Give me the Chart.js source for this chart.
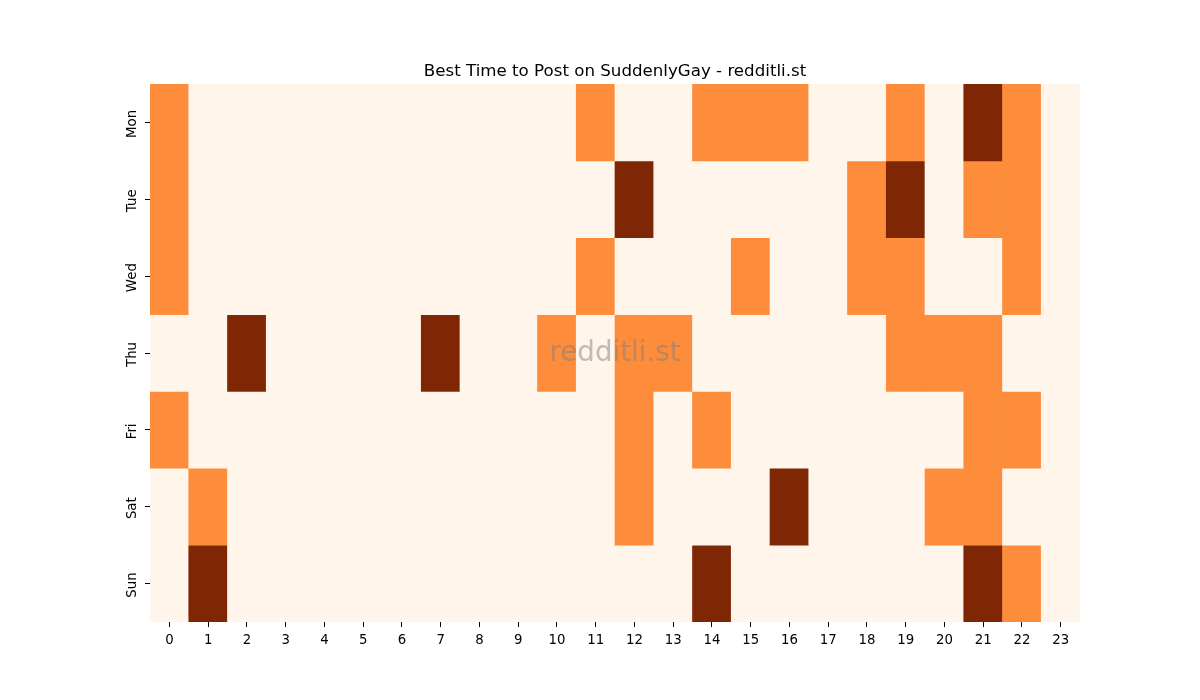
<!DOCTYPE html>
<html>
<head>
<meta charset="utf-8">
<script src="https://cdn.jsdelivr.net/npm/chart.js@4/dist/chart.umd.min.js"></script>
<style>
html,body{margin:0;padding:0;background:#fff;}
#wrap{width:1200px;height:700px;}
</style>
</head>
<body>
<div id="wrap"><canvas id="c" width="1200" height="700"></canvas></div>
<script>
const chartTitle = 'Best Time to Post on SuddenlyGay - redditli.st';
const hours = ['0','1','2','3','4','5','6','7','8','9','10','11','12','13','14','15','16','17','18','19','20','21','22','23'];
const days = ['Mon','Tue','Wed','Thu','Fri','Sat','Sun'];
// activity level per hour (0 = low, 1 = mid, 2 = high)
const mon = [1,0,0,0,0,0,0,0,0,0,0,1,0,0,1,1,1,0,0,1,0,2,1,0];
const tue = [1,0,0,0,0,0,0,0,0,0,0,0,2,0,0,0,0,0,1,2,0,1,1,0];
const wed = [1,0,0,0,0,0,0,0,0,0,0,1,0,0,0,1,0,0,1,1,0,0,1,0];
const thu = [0,0,2,0,0,0,0,2,0,0,1,0,1,1,0,0,0,0,0,1,1,1,0,0];
const fri = [1,0,0,0,0,0,0,0,0,0,0,0,1,0,1,0,0,0,0,0,0,1,1,0];
const sat = [0,1,0,0,0,0,0,0,0,0,0,0,1,0,0,0,2,0,0,0,1,1,0,0];
const sun = [0,2,0,0,0,0,0,0,0,0,0,0,0,0,2,0,0,0,0,0,0,2,1,0];
const rows = [mon,tue,wed,thu,fri,sat,sun];
const palette = ['#fff5eb','#fd8c3b','#7f2704'];

const datasets = rows.map((row, r) => ({
  label: days[r],
  data: row.map(() => [r, r + 1]),
  backgroundColor: row.map(v => palette[v]),
  borderWidth: 0,
  barPercentage: 1.0,
  categoryPercentage: 1.0,
  grouped: false
}));

const extras = {
  id: 'extras',
  afterDatasetsDraw(chart) {
    const a = chart.chartArea, ctx = chart.ctx;
    ctx.save();
    ctx.font = '27.7px "DejaVu Sans"';
    ctx.fillStyle = 'rgba(128,128,128,0.5)';
    ctx.textAlign = 'center';
    ctx.textBaseline = 'middle';
    ctx.fillText('redditli.st', (a.left + a.right) / 2, (a.top + a.bottom) / 2 + 1);
    ctx.restore();
  },
  afterDraw(chart) {
    const a = chart.chartArea, ys = chart.scales.y, ctx = chart.ctx;
    ctx.save();
    ctx.fillStyle = '#000';
    ctx.textAlign = 'center';
    ctx.textBaseline = 'alphabetic';
    ctx.font = '16.67px "DejaVu Sans"';
    ctx.fillText(chartTitle, (a.left + a.right) / 2, 76.3);
    ctx.textBaseline = 'middle';
    ctx.font = '13.3px "DejaVu Sans"';
    days.forEach((d, i) => {
      const y = ys.getPixelForValue(i + 0.5);
      ctx.save();
      ctx.translate(133, y + 1.5);
      ctx.rotate(-Math.PI / 2);
      ctx.fillText(d, 0, 0);
      ctx.restore();
    });
    ctx.restore();
  }
};

new Chart(document.getElementById('c'), {
  type: 'bar',
  data: { labels: hours, datasets },
  plugins: [extras],
  options: {
    responsive: false,
    animation: false,
    devicePixelRatio: 1,
    layout: { padding: { left: 100, right: 120, top: 84, bottom: 30 } },
    plugins: {
      legend: { display: false },
      tooltip: { enabled: false },
      title: { display: false }
    },
    scales: {
      x: {
        type: 'category',
        offset: true,
        grid: { display: true, drawOnChartArea: false, drawTicks: true, tickLength: 5, color: '#000', offset: false },
        border: { display: false },
        ticks: { color: '#000', font: { family: 'DejaVu Sans', size: 13.3 }, padding: 6, maxRotation: 0, minRotation: 0, autoSkip: false },
        afterFit(s) { s.height = 48; }
      },
      y: {
        type: 'linear',
        min: 0,
        max: 7,
        reverse: true,
        grid: { display: true, drawOnChartArea: false, drawTicks: true, tickLength: 5, color: '#000' },
        border: { display: false },
        afterBuildTicks(s) { s.ticks = days.map((d, i) => ({ value: i + 0.5 })); },
        ticks: {
          color: '#000',
          font: { family: 'DejaVu Sans', size: 13 },
          callback: () => ''
        },
        afterFit(s) { s.width = 50; }
      }
    }
  }
});
</script>
</body>
</html>
